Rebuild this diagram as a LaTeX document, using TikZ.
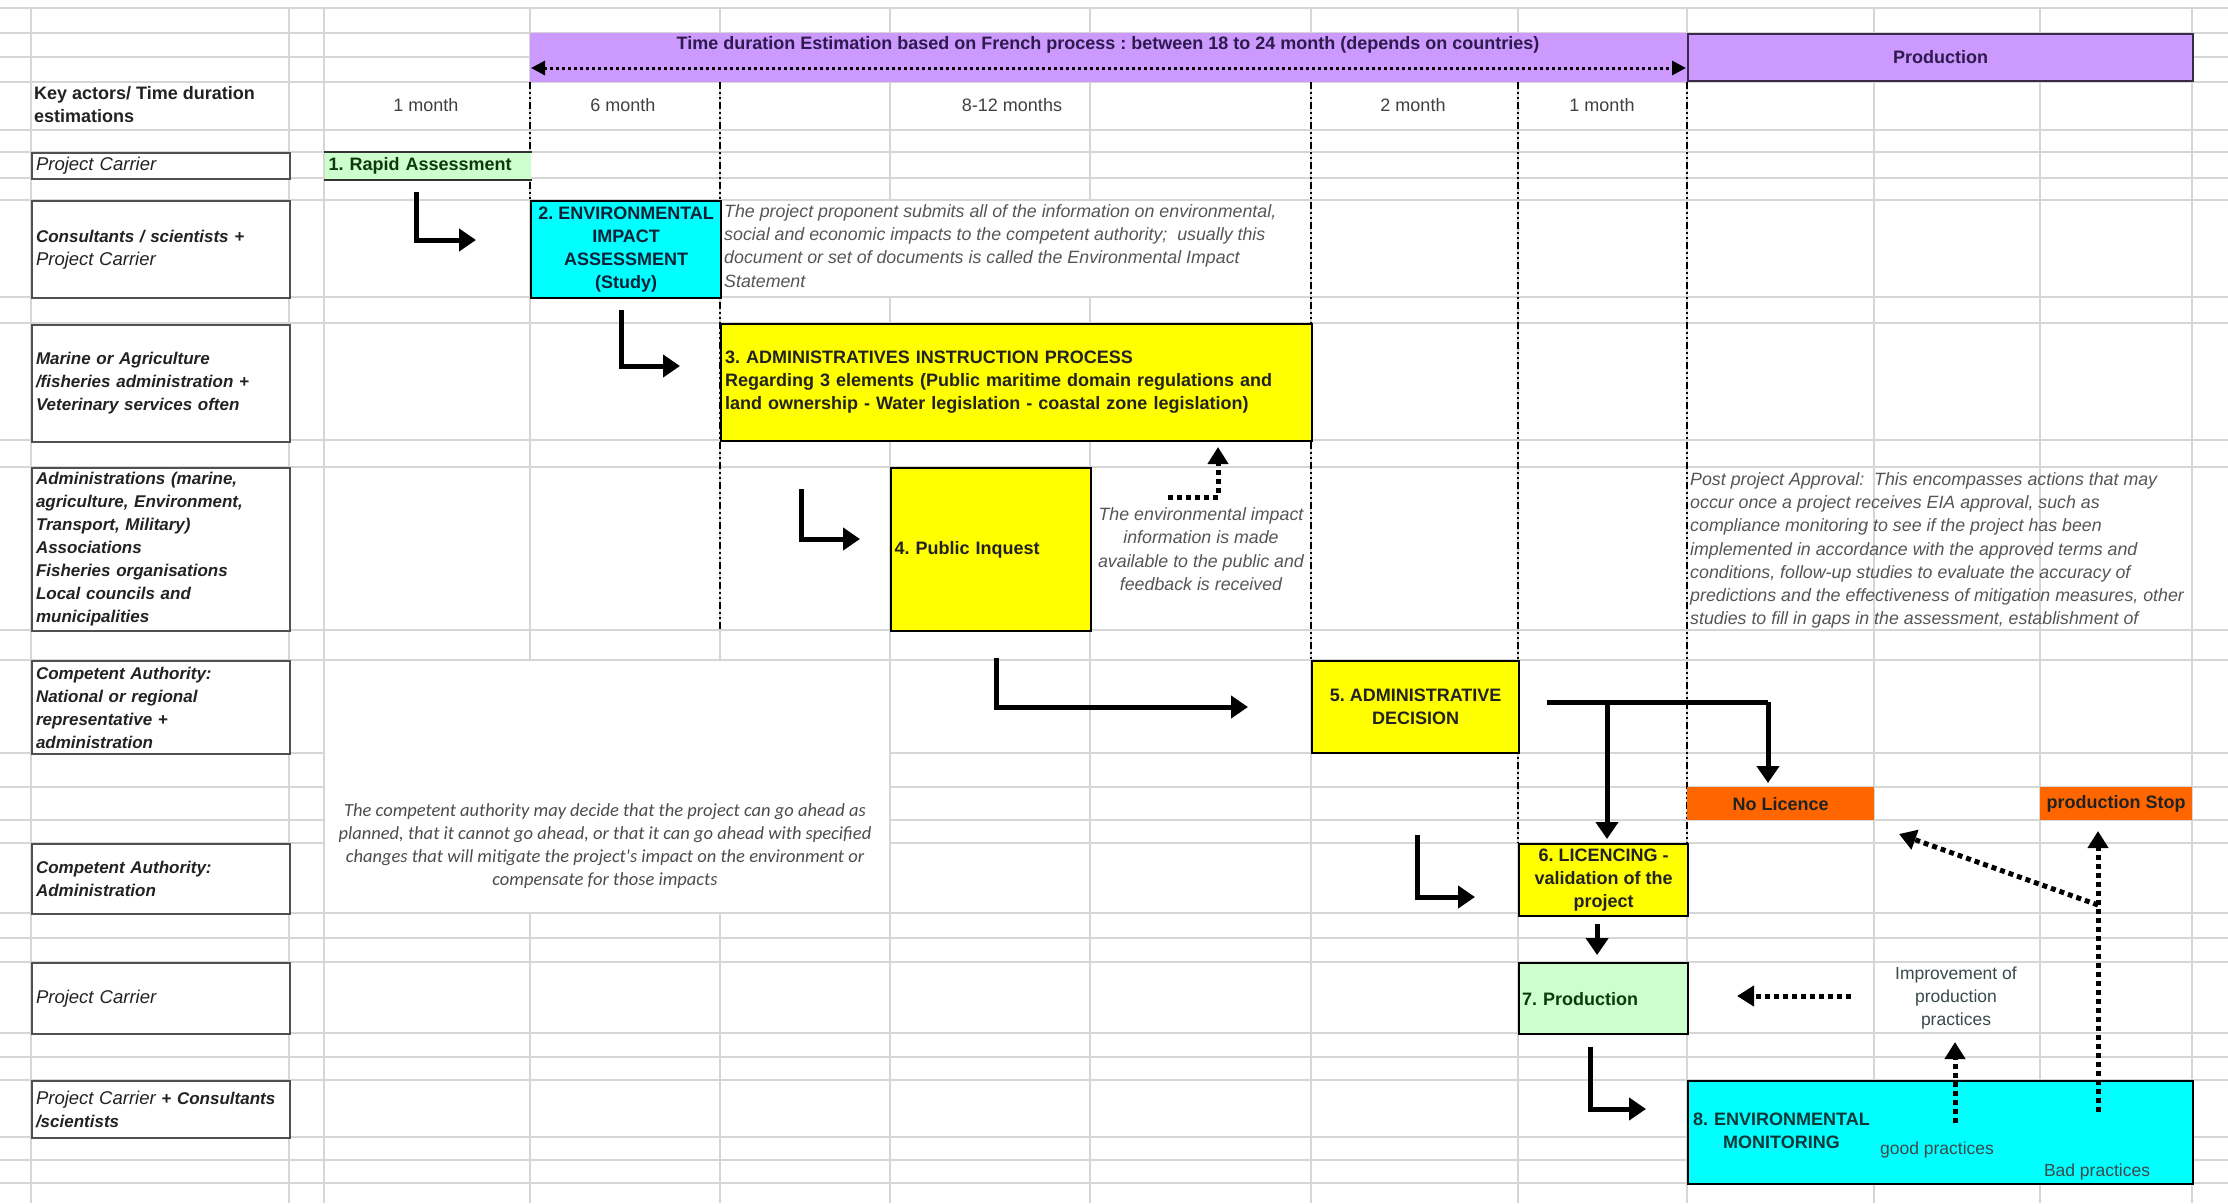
\documentclass[tikz,border=0pt]{standalone}
\usepackage{fontspec}
\setmainfont{Liberation Sans}
\newfontfamily\calfont{Carlito}
\usetikzlibrary{arrows.meta}

\definecolor{gridc}{HTML}{D6D6D6}
\definecolor{lilac}{HTML}{CC99FF}
\definecolor{lilacedge}{HTML}{3A2A4A}
\definecolor{lilactxt}{HTML}{2E1A4E}
\definecolor{aqua}{HTML}{00FFFF}
\definecolor{lemon}{HTML}{FFFF00}
\definecolor{mint}{HTML}{CCFFCC}
\definecolor{tangerine}{HTML}{FF6600}
\definecolor{actorc}{HTML}{505050}
\definecolor{txt}{HTML}{222222}
\definecolor{notec}{HTML}{555555}
\definecolor{monthc}{HTML}{404040}
\definecolor{greentxt}{HTML}{0C3A0C}
\definecolor{navytxt}{HTML}{0B2236}
\definecolor{tealtxt}{HTML}{0E3838}
\definecolor{softtxt}{HTML}{3A4A4A}

\newcommand\fsz[2]{\fontsize{#1}{#2}\selectfont}
% plain (non-bold) italic used for the project carrier labels
\newcommand\plainit{\fontsize{18.5}{23}\selectfont\mdseries\itshape}

\tikzset{
  gridline/.style={draw=gridc, line width=1.3pt},
  period/.style={draw=black, line width=1.8pt,
    dash pattern=on 7pt off 3pt on 2pt off 3pt on 2pt off 3pt},
  actor/.style={draw=actorc, line width=2pt, fill=white, anchor=north west,
    inner xsep=4pt, inner ysep=1pt, align=left, text=txt,
    minimum width=258pt, text width=250pt,
    font=\fsz{17}{23}\bfseries\itshape},
  stepbox/.style={draw=black, line width=2.2pt, anchor=north west,
    inner xsep=4pt, inner ysep=0pt, font=\fsz{18}{23}\bfseries, text=txt},
  boxedge/.style={draw=black!80, line width=2.2pt},
  bigarrow/.style={line width=5pt, -{Triangle[length=17pt,width=22pt]}},
  dotarrow/.style={line width=5pt, dash pattern=on 5pt off 4pt,
    -{Triangle[length=17pt,width=20pt]}},
  spanarrow/.style={line width=3pt, dash pattern=on 3pt off 3pt,
    {Triangle[length=14pt,width=14pt]}-{Triangle[length=14pt,width=14pt]}},
  note/.style={font=\fsz{17.8}{23.3}\itshape, text=notec, inner sep=0pt},
  month/.style={font=\fsz{18}{20}, text=monthc, inner sep=0pt},
  soft/.style={font=\fsz{17.5}{23}, text=softtxt, inner sep=0pt, align=center},
  banner/.style={font=\fsz{18}{20}\bfseries, inner sep=0pt},
}

\begin{document}
\frenchspacing
\begin{tikzpicture}[x=1pt,y=-1pt]
\useasboundingbox (0,0) rectangle (2228,1203);
\fill[white] (0,0) rectangle (2228,1203);

% spreadsheet grid
\foreach \gx in {31,289,324,530,720,890,1090,1311,1518,1687,1874,2040,2192}
  \draw[gridline] (\gx,8) -- (\gx,1203);
\foreach \gy in {8,33,57,82,130,152,178,200,297,323,440,467,630,660,753,787,820,843,913,938,962,1033,1057,1080,1137,1160,1183}
  \draw[gridline] (0,\gy) -- (2228,\gy);

% text areas laid over the grid
\fill[white] (722,201) rectangle (1310,296);
\fill[white] (325,661) rectangle (889,912);

% stage boundaries
\draw[period] (530,82) -- (530,200);
\draw[period] (720,82) -- (720,630);
\draw[period] (1311,82) -- (1311,660);
\draw[period] (1518,82) -- (1518,843);
\draw[period] (1687,82) -- (1687,843);

% overall duration band
\node[fill=lilac, minimum width=1157pt, minimum height=49pt, anchor=north west, inner sep=0pt] (span) at (530,33) {};
\node[banner, text=lilactxt] (spantxt) at (1108,45)
  {Time duration Estimation based on French process : between 18 to 24 month (depends on countries)};
\coordinate (sp1) at (531,68);
\coordinate (sp2) at (1686,68);
\draw[spanarrow] (sp1) -- (sp2);

\node[banner, fill=lilac, draw=lilacedge, line width=2pt, minimum width=505pt, minimum height=47pt,
  anchor=north west, text=lilactxt] (prodhdr) at (1687,33) {Production};

% column headings
\node[anchor=west, align=left, font=\fsz{18}{23}\bfseries, text=txt, inner sep=0pt] (keyhdr) at (34,105)
  {Key actors/ Time duration\\estimations};
\node[month] (m1) at (426,105) {1 month};
\node[month] (m2) at (623,105) {6 month};
\node[month] (m3) at (1012,105) {8-12 months};
\node[month] (m4) at (1413,105) {2 month};
\node[month] (m5) at (1602,105) {1 month};

% actors
\node[actor, minimum height=26pt, font=\plainit] (act1) at (31,152) {Project Carrier};
\node[actor, minimum height=97pt] (act2) at (31,200) {Consultants / scientists +\\\plainit Project Carrier};
\node[actor, minimum height=117pt] (act3) at (31,324) {Marine or Agriculture\\/fisheries administration +\\Veterinary services often};
\node[actor, minimum height=163pt] (act4) at (31,467) {Administrations (marine,\\agriculture, Environment,\\Transport, Military)\\Associations\\Fisheries organisations\\Local councils and\\municipalities};
\node[actor, minimum height=93pt] (act5) at (31,660) {Competent Authority:\\National or regional\\representative +\\administration};
\node[actor, minimum height=70pt] (act6) at (31,843) {Competent Authority:\\Administration};
\node[actor, minimum height=71pt, font=\plainit] (act7) at (31,962) {Project Carrier};
\node[actor, minimum height=57pt] (act8) at (31,1080) {{\plainit Project Carrier} + Consultants\\/scientists};

% process steps
\node[stepbox, draw=none, fill=mint, minimum width=206pt, minimum height=26pt, text width=199pt,
  align=left, inner xsep=3.5pt, text=greentxt] (s1) at (324,152) {1. Rapid Assessment};
\draw[boxedge] (s1.north west) -- (s1.north east) (s1.south west) -- (s1.south east);

\node[stepbox, fill=aqua, minimum width=190pt, minimum height=97pt, align=center, text=navytxt] (s2) at (530,200)
  {2. ENVIRONMENTAL\\IMPACT\\ASSESSMENT\\(Study)};

\node[stepbox, fill=lemon, minimum width=591pt, minimum height=117pt, text width=583pt, align=left] (s3) at (720,323)
  {3. ADMINISTRATIVES INSTRUCTION PROCESS\\Regarding 3 elements (Public maritime domain regulations and\\land ownership - Water legislation - coastal zone legislation)};

\node[stepbox, fill=lemon, minimum width=200pt, minimum height=163pt, text width=193pt, inner xsep=3.5pt, align=left] (s4) at (890,467)
  {4. Public Inquest};

\node[stepbox, fill=lemon, minimum width=207pt, minimum height=92pt, align=center] (s5) at (1311,660)
  {5. ADMINISTRATIVE\\DECISION};

\node[stepbox, fill=lemon, minimum width=169pt, minimum height=72pt, align=center] (s6) at (1518,843)
  {6. LICENCING -\\validation of the\\project};

\node[stepbox, fill=mint, minimum width=169pt, minimum height=71pt, text width=163pt, inner xsep=3pt, align=left, text=greentxt] (s7) at (1518,962)
  {7. Production};

\node[stepbox, fill=aqua, minimum width=505pt, minimum height=103pt, text width=495pt, inner xsep=5pt, align=left, text=tealtxt] (s8) at (1687,1080)
  {\begin{tabular}{@{}c@{}}8. ENVIRONMENTAL\\MONITORING\end{tabular}};

\node[banner, fill=tangerine, minimum width=187pt, minimum height=33pt, anchor=north west, text=txt] (nolic) at (1687,787) {No Licence};
\node[banner, fill=tangerine, minimum width=152pt, minimum height=33pt, anchor=north west, text=txt] (pstop) at (2040,787) {production Stop};

% explanatory notes
\node[note, anchor=north west, align=left] (n1) at (724,204)
  {The project proponent submits all of the information on environmental,\\social and economic impacts to the competent authority;\ \ usually this\\document or set of documents is called the Environmental Impact\\Statement};
\node[note, align=center] (n2) at (1201,549)
  {The environmental impact\\information is made\\available to the public and\\feedback is received};
\node[note, anchor=north west, align=left] (n3) at (1690,472)
  {Post project Approval:\ \ This encompasses actions that may\\occur once a project receives EIA approval, such as\\compliance monitoring to see if the project has been\\implemented in accordance with the approved terms and\\conditions, follow-up studies to evaluate the accuracy of\\predictions and the effectiveness of mitigation measures, other\\studies to fill in gaps in the assessment, establishment of};
\node[note, align=center, font=\fsz{18.5}{23.2}\calfont\itshape, text=black!70] (n4) at (605,846)
  {The competent authority may decide that the project can go ahead as\\planned, that it cannot go ahead, or that it can go ahead with specified\\changes that will mitigate the project's impact on the environment or\\compensate for those impacts};
\node[soft] (impr) at (1956,998) {Improvement of\\production\\practices};
\node[soft] (good) at (1937,1150) {good practices};
\node[soft] (bad) at (2097,1172) {Bad practices};

% hand-over arrows between steps
\coordinate (a1s) at (416,192);  \coordinate (a1e) at (476,240);
\coordinate (a2s) at (621,310);  \coordinate (a2e) at (680,366);
\coordinate (a3s) at (801,489);  \coordinate (a3e) at (860,539);
\coordinate (a4s) at (996,658);  \coordinate (a4e) at (1248,707);
\coordinate (a6s) at (1417,835); \coordinate (a6e) at (1475,897);
\coordinate (a8s) at (1590,1047); \coordinate (a8e) at (1646,1109);
\draw[bigarrow] (a1s) |- (a1e);
\draw[bigarrow] (a2s) |- (a2e);
\draw[bigarrow] (a3s) |- (a3e);
\draw[bigarrow] (a4s) |- (a4e);
\draw[bigarrow] (a6s) |- (a6e);
\draw[bigarrow] (a8s) |- (a8e);

% decision split: licence or no licence
\coordinate (t1) at (1547,702);
\coordinate (t2) at (1768,702);
\coordinate (tb) at (1607,702);
\coordinate (nl) at (1768,783);
\coordinate (lc) at (1607,839);
\draw[line width=5pt] (t1) -- (t2);
\draw[bigarrow] (t2) -- (nl);
\draw[bigarrow] (tb) -- (lc);
\draw[bigarrow] ([xshift=-6.5pt,yshift=-7pt]s6.south) -- ([xshift=-6.5pt,yshift=7pt]s7.north);

% feedback loops
\coordinate (d1s) at (1168,497); \coordinate (d1e) at (1218,447);
\draw[dotarrow] (d1s) -| (d1e);
\coordinate (d2s) at (1955,1123); \coordinate (d2e) at (1955,1042);
\draw[dotarrow] (d2s) -- (d2e);
\coordinate (d3s) at (1851,996); \coordinate (d3e) at (1737,996);
\draw[dotarrow] (d3s) -- (d3e);
\coordinate (d4s) at (2098,1112); \coordinate (d4e) at (2098,831);
\draw[dotarrow] (d4s) -- (d4e);
\coordinate (d5s) at (2098,905); \coordinate (d5e) at (1899,834);
\draw[dotarrow] (d5s) -- (d5e);
\end{tikzpicture}
\end{document}
